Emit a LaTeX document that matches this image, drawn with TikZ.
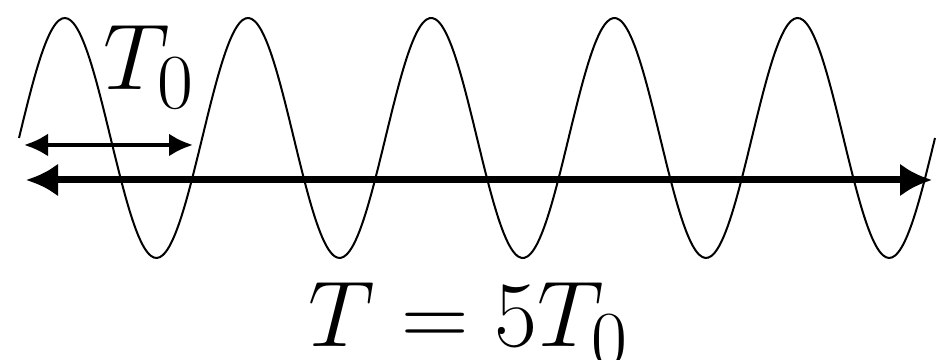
\documentclass[tikz,border=0pt]{standalone}
\usetikzlibrary{arrows.meta}
\tikzset{
  wave/.style={line width=0.5pt},
  smallarrow/.style={line width=1pt,{Latex[length=6pt,width=5.75pt]}-{Latex[length=6pt,width=5.75pt]}},
  bigarrow/.style={line width=1.75pt,{Latex[length=8pt,width=8.25pt]}-{Latex[length=8pt,width=8.25pt]}},
  lbl/.style={inner sep=0pt,anchor=base west,font=\Huge,scale=0.94}
}
\begin{document}
\begin{tikzpicture}[x=0.25pt,y=0.25pt]
\useasboundingbox (0,0) rectangle (940,360);
\draw[wave] plot[domain=19:935,samples=300,smooth] (\x,{222+120*sin(1.965066*(\x-19))});
\coordinate (s1) at (24,215);
\coordinate (s2) at (193,215);
\draw[smallarrow] (s1) -- (s2);
\coordinate (b1) at (26,180);
\coordinate (b2) at (932,180);
\draw[bigarrow] (b1) -- (b2);
\node[lbl] (t0) at (103,270) {$T_0$};
\node[lbl] (tt) at (308,13) {$T=5T_0$};
\end{tikzpicture}
\end{document}
